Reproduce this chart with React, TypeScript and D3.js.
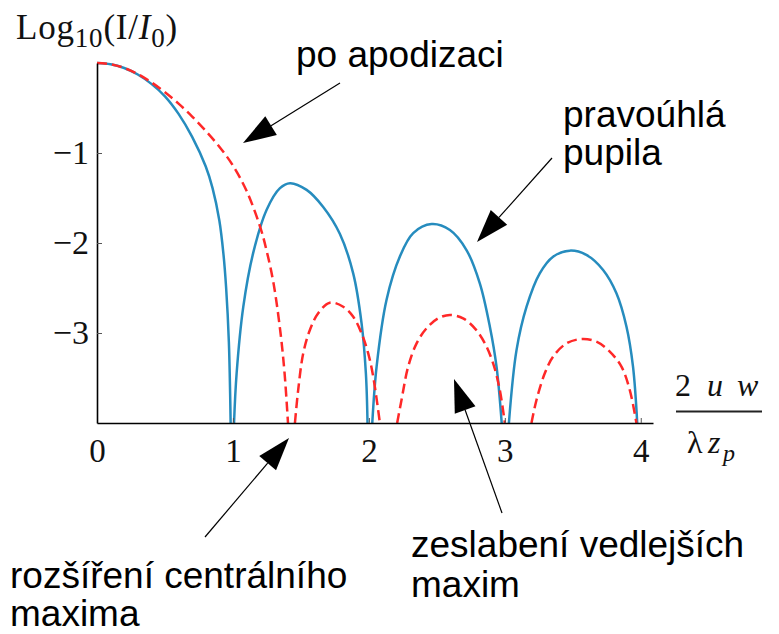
import React, { useEffect, useRef } from 'react'
import { select, scaleLinear, line, curveCatmullRom, axisBottom, axisLeft, format } from 'd3'

// values: [2uw / (λ z_p), log10(I/I0)]
// -Infinity marks a zero of the intensity (log of 0), the curve is broken there
const rectPupil: [number, number][] = [
  [0, 0], [0.1, -0.014], [0.2, -0.056], [0.3, -0.128], [0.4, -0.232], [0.5, -0.37],
  [0.6, -0.565], [0.7, -0.82], [0.8, -1.15], [0.85, -1.39], [0.9, -1.75], [0.93, -2.12],
  [0.95, -2.5], [0.97, -3.1], [0.983, -4],
  [0.995, -Infinity],
  [1.008, -4], [1.027, -3.45], [1.076, -2.71], [1.149, -2.11], [1.248, -1.63], [1.346, -1.39],
  [1.42, -1.335], [1.542, -1.41], [1.664, -1.6], [1.787, -1.9], [1.885, -2.34], [1.946, -2.89],
  [1.978, -3.45], [1.99, -4],
  [2.008, -Infinity],
  [2.025, -4], [2.057, -3.37], [2.13, -2.63], [2.228, -2.15], [2.326, -1.89], [2.461, -1.79],
  [2.596, -1.856], [2.718, -2.078], [2.816, -2.448], [2.89, -2.93], [2.939, -3.374], [2.977, -4],
  [3.003, -Infinity],
  [3.03, -4], [3.086, -3.19], [3.16, -2.707], [3.257, -2.337], [3.355, -2.152], [3.478, -2.085],
  [3.6, -2.133], [3.723, -2.3], [3.821, -2.559], [3.895, -2.93], [3.943, -3.374], [3.974, -4],
]

const apodPupil: [number, number][] = [
  [0, 0], [0.1, -0.013], [0.2, -0.055], [0.3, -0.123], [0.4, -0.215], [0.5, -0.325],
  [0.6, -0.452], [0.7, -0.595], [0.8, -0.755], [0.9, -0.93], [1.0, -1.14], [1.1, -1.42],
  [1.2, -1.82], [1.25, -2.1], [1.3, -2.46], [1.35, -3.0], [1.38, -3.45], [1.405, -4],
  [1.43, -Infinity],
  [1.456, -4], [1.48, -3.633], [1.517, -3.226], [1.566, -2.967], [1.627, -2.781], [1.713, -2.663],
  [1.811, -2.708], [1.885, -2.819], [1.946, -3.003], [1.995, -3.226], [2.032, -3.486], [2.081, -4],
  [2.145, -Infinity],
  [2.208, -4], [2.24, -3.744], [2.289, -3.374], [2.351, -3.115], [2.424, -2.948], [2.51, -2.837],
  [2.596, -2.8], [2.693, -2.837], [2.779, -2.948], [2.853, -3.115], [2.914, -3.337], [2.963, -3.633],
  [3.0, -4],
  [3.1, -Infinity],
  [3.196, -4], [3.233, -3.744], [3.294, -3.448], [3.355, -3.263], [3.454, -3.115], [3.564, -3.067],
  [3.674, -3.096], [3.772, -3.207], [3.858, -3.374], [3.919, -3.633], [3.968, -4],
]

const xTicks = [0, 1, 2, 3, 4]
const yTicks = [-1, -2, -3]

// annotation labels (pixels)
const notes = [
  { lines: ['po apodizaci'], tx: 296, ty: [67], from: [340, 83], to: [243, 143] },
  { lines: ['pravoúhlá', 'pupila'], tx: 563, ty: [127, 165], from: [552, 158], to: [477, 242] },
  { lines: ['zeslabení vedlejších', 'maxim'], tx: 411, ty: [557, 597], from: [502, 513], to: [454, 379] },
  { lines: ['rozšíření centrálního', 'maxima'], tx: 10, ty: [588, 626], from: [205, 537], to: [289, 438] },
]

const W = 779
const H = 634
const serif = '"Liberation Serif", "DejaVu Serif", serif'
const sans = '"Liberation Sans", Arial, sans-serif'

function Arrow({ from, to }: { from: number[]; to: number[] }) {
  const dx = to[0] - from[0]
  const dy = to[1] - from[1]
  const l = Math.hypot(dx, dy)
  const ux = dx / l, uy = dy / l
  const len = 33, half = 11
  const bx = to[0] - ux * len, by = to[1] - uy * len
  const pts = `${to[0]},${to[1]} ${bx - uy * half},${by + ux * half} ${bx + uy * half},${by - ux * half}`
  return (
    <g>
      <line x1={from[0]} y1={from[1]} x2={bx} y2={by} stroke="#000" strokeWidth={1.2} />
      <polygon points={pts} fill="#000" />
    </g>
  )
}

export default function App() {
  const xAxisRef = useRef<SVGGElement>(null)
  const yAxisRef = useRef<SVGGElement>(null)

  const x = scaleLinear().domain([0, 4.09]).range([97, 653])
  const y = scaleLinear().domain([-4, 0]).range([423, 63])

  const curve = line<[number, number]>()
    .defined(d => Number.isFinite(d[1]))
    .x(d => x(d[0]))
    .y(d => y(d[1]))
    .curve(curveCatmullRom.alpha(0.5))

  useEffect(() => {
    const gx = select(xAxisRef.current)
    gx.call(axisBottom(x).tickValues(xTicks).tickSizeInner(-5).tickSizeOuter(0).tickPadding(16).tickFormat(format('d')) as any)
    gx.attr('font-family', serif).attr('font-size', 33)
    gx.select('.domain').attr('stroke', '#000').attr('stroke-width', 1.6)
    gx.selectAll('.tick line').attr('stroke', '#555')
    gx.selectAll('.tick text').attr('fill', '#111')

    const gy = select(yAxisRef.current)
    gy.call(axisLeft(y).tickValues(yTicks).tickSizeInner(-5).tickSizeOuter(0).tickPadding(8).tickFormat(format('d')) as any)
    gy.attr('font-family', serif).attr('font-size', 34)
    gy.select('.domain').attr('stroke', '#000').attr('stroke-width', 1.6)
    gy.selectAll('.tick line').attr('stroke', '#555')
    gy.selectAll('.tick text').attr('fill', '#111')
  }, [])

  return (
    <svg width={W} height={H} style={{ position: 'absolute', left: 0, top: 0, background: '#fff' }}>
      <defs>
        <clipPath id="plot">
          <rect x={x(0)} y={y(0) - 6} width={x(4.09) - x(0)} height={y(-4) - y(0) + 6} />
        </clipPath>
      </defs>
      <g clipPath="url(#plot)">
        <path d={curve(rectPupil) || ''} fill="none" stroke="#268cbe" strokeWidth={2.5} />
        <path d={curve(apodPupil) || ''} fill="none" stroke="#ff2828" strokeWidth={2.5} strokeDasharray="10 5" />
      </g>

      <g ref={xAxisRef} transform={`translate(0,${y(-4)})`} />
      <g ref={yAxisRef} transform={`translate(${x(0)},0)`} />

      {/* y label */}
      <text x={16} y={39} fontFamily={serif} fill="#111" fontSize={35} letterSpacing={0.8}>
        Log
        <tspan dy={8} fontSize={27}>10</tspan>
        <tspan dy={-8}>(I/</tspan>
        <tspan fontStyle="italic">I</tspan>
        <tspan dy={8} fontSize={27}>0</tspan>
        <tspan dy={-8}>)</tspan>
      </text>

      {/* x label as fraction */}
      <text fontFamily={serif} fill="#111" fontSize={32}>
        <tspan x={675} y={396}>2</tspan>
        <tspan x={707} y={396} fontStyle="italic">u</tspan>
        <tspan x={737} y={396} fontStyle="italic">w</tspan>
        <tspan x={687} y={453}>λ</tspan>
        <tspan x={708} y={453} fontStyle="italic">z</tspan>
        <tspan x={723} y={461} fontSize={24} fontStyle="italic">p</tspan>
      </text>
      <line x1={676} x2={762} y1={411.5} y2={411.5} stroke="#222" strokeWidth={2} />

      {notes.map((n, i) => (
        <g key={i}>
          <Arrow from={n.from} to={n.to} />
          <text fontFamily={sans} fontSize={37} fill="#000">
            {n.lines.map((t, j) => (
              <tspan key={j} x={n.tx} y={n.ty[j]}>{t}</tspan>
            ))}
          </text>
        </g>
      ))}
    </svg>
  )
}
